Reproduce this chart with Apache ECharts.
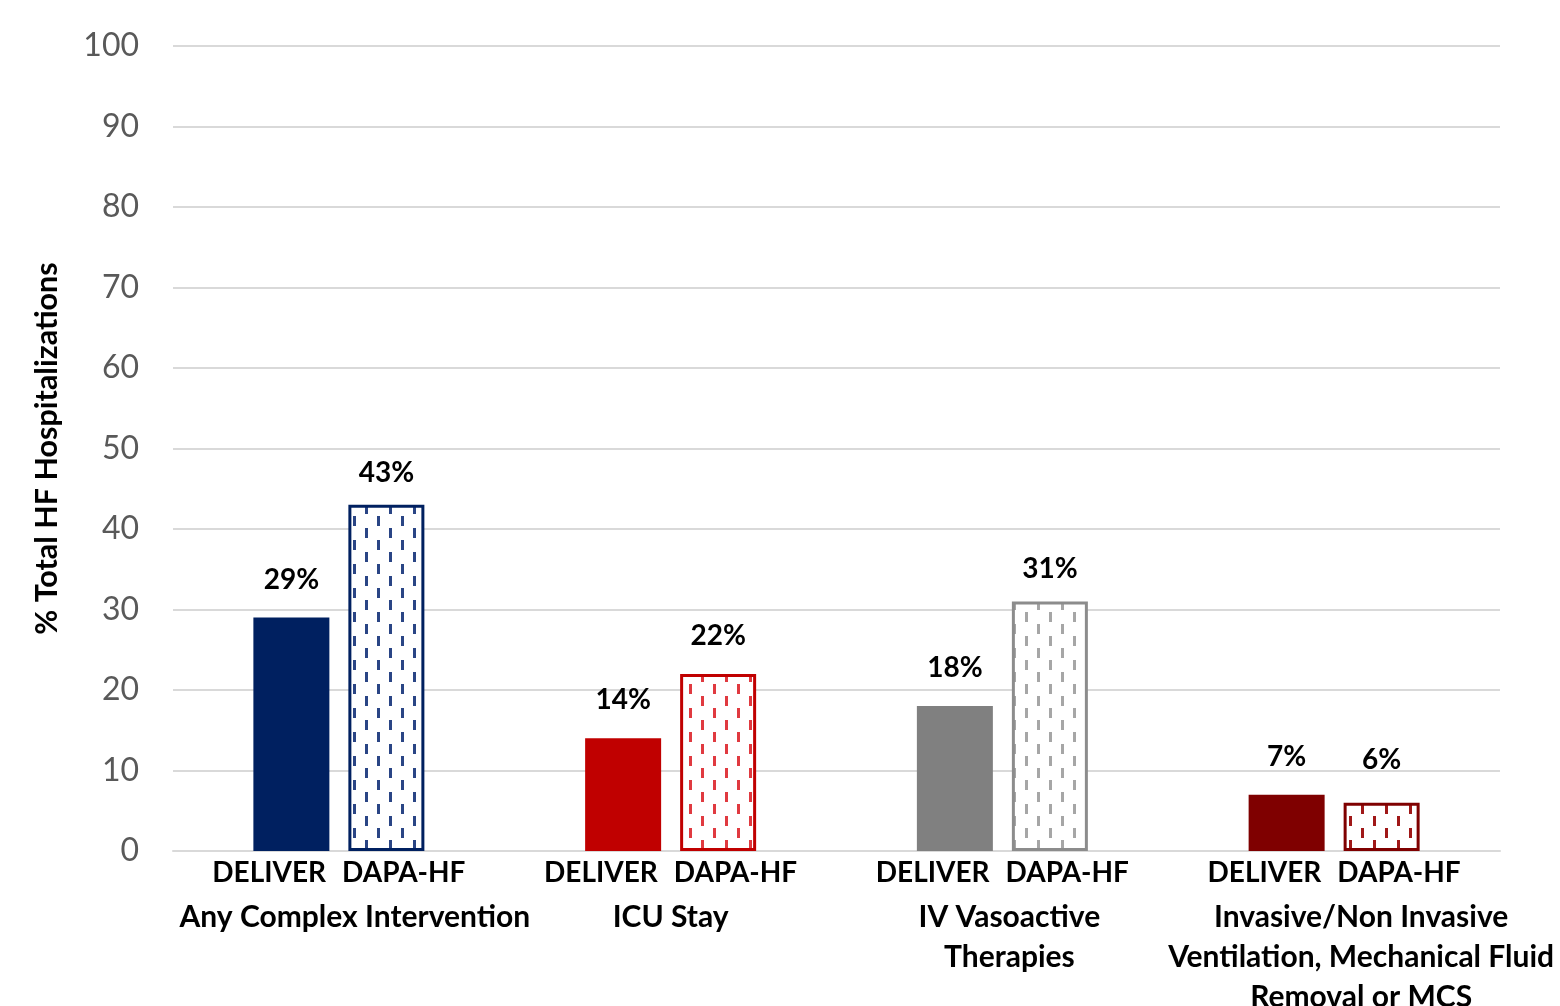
<!DOCTYPE html>
<html>
<head>
<meta charset="utf-8">
<script src="https://cdn.jsdelivr.net/npm/echarts@6/dist/echarts.min.js"></script>
<style>
html,body{margin:0;padding:0;background:#fff;}
#chart{width:1560px;height:1006px;}
</style>
</head>
<body>
<div id="chart"></div>
<script>
// ---- data ----
const groups = ['Any Complex Intervention', 'ICU Stay', 'IV Vasoactive\nTherapies', 'Invasive/Non Invasive\nVentilation, Mechanical Fluid\nRemoval or MCS'];
const seriesNames = ['DELIVER', 'DAPA-HF'];
const deliverValues = [29, 14, 18, 7];
const dapaValues = [43, 22, 31, 6];
const yTicks = [0, 10, 20, 30, 40, 50, 60, 70, 80, 90, 100];

// ---- styles ----
const solidColors = ['#002060', '#C00000', '#808080', '#7F0000'];
const borderColors = ['#002060', '#C00000', '#8C8C8C', '#7F0000'];
const dashColors = ['#2A4585', '#E03A40', '#A6A6A6', '#A01818'];
const groupLabelShift = [32, 0, 14, 54];      // left padding (px) for group-name lines
const dapaLabelDist = [18, 24, 18, 29];       // label distance above hatched bars
const FONT = 'Lato, "Open Sans", sans-serif';

function makePattern(col) {
  const c = document.createElement('canvas');
  c.width = 24; c.height = 24;
  const ctx = c.getContext('2d');
  ctx.fillStyle = '#fff';
  ctx.fillRect(0, 0, 24, 24);
  ctx.fillStyle = col;
  ctx.fillRect(5, 0, 3, 10);
  ctx.fillRect(17, 12, 3, 10);
  return c;
}

const chart = echarts.init(document.getElementById('chart'));

const labelBase = {
  show: true,
  position: 'top',
  formatter: p => p.value + '%',
  fontFamily: FONT,
  fontWeight: 'bold',
  fontSize: 28,
  color: '#000'
};

const dataDeliver = deliverValues.map((v, i) => ({
  value: v,
  itemStyle: { color: solidColors[i] }
}));
const dataDapa = dapaValues.map((v, i) => ({
  value: v,
  label: { distance: dapaLabelDist[i] },
  itemStyle: {
    color: { image: makePattern(dashColors[i]), repeat: 'repeat' },
    borderColor: borderColors[i],
    borderWidth: 3
  }
}));

const rich = {
  a: { fontFamily: FONT, fontWeight: 'bold', fontSize: 28, color: '#000', lineHeight: 48 },
  s: { width: 16, lineHeight: 48 }
};
groupLabelShift.forEach((p, i) => {
  rich['b' + i] = { fontFamily: FONT, fontWeight: 'bold', fontSize: 30, color: '#000', lineHeight: 40, padding: [0, 0, 0, p] };
});

chart.setOption({
  animation: false,
  backgroundColor: '#fff',
  grid: { left: 173, right: 60, top: 46, bottom: 155, containLabel: false, outerBoundsMode: 'none' },
  xAxis: {
    type: 'category',
    data: groups,
    axisLine: { show: true, lineStyle: { color: '#D9D9D9', width: 2 } },
    axisTick: { show: false },
    axisLabel: {
      interval: 0,
      margin: -2,
      formatter: function (val, idx) {
        const lines = val.split('\n').map(l => '{b' + idx + '|' + l + '}').join('\n');
        return '{a|' + seriesNames[0] + '}{s|}{a|' + seriesNames[1] + '}\n' + lines;
      },
      rich: rich
    }
  },
  yAxis: {
    type: 'value',
    min: 0,
    max: 100,
    interval: 10,
    name: '% Total HF Hospitalizations',
    nameLocation: 'middle',
    nameGap: 110,
    nameTextStyle: { fontFamily: FONT, fontWeight: 'bold', fontSize: 30.5, color: '#000' },
    axisLine: { show: false },
    axisTick: { show: false },
    axisLabel: {
      margin: 34,
      fontFamily: FONT,
      fontSize: 32,
      color: '#595959',
      formatter: v => yTicks.includes(v) ? String(v) : ''
    },
    splitLine: { lineStyle: { color: '#D9D9D9', width: 2 } }
  },
  series: [
    { name: seriesNames[0], type: 'bar', barWidth: 76, barGap: '25%', data: dataDeliver, label: Object.assign({ distance: 24 }, labelBase) },
    { name: seriesNames[1], type: 'bar', barWidth: 76, data: dataDapa, label: Object.assign({ distance: 18 }, labelBase) }
  ]
});
</script>
</body>
</html>
